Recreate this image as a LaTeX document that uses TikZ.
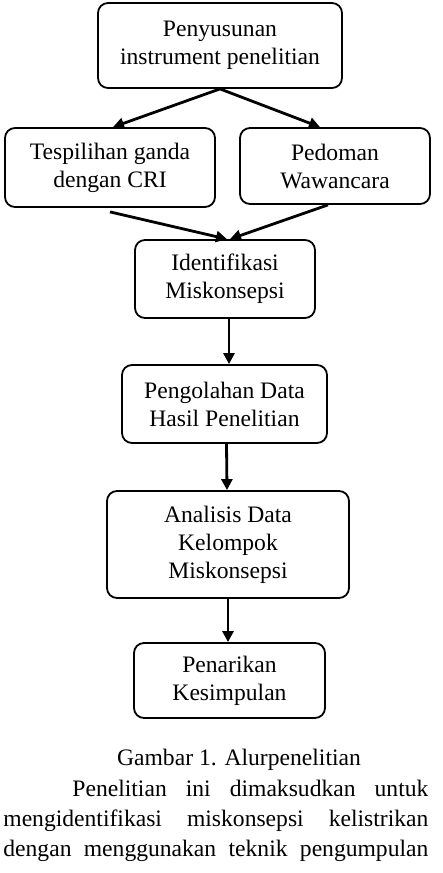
\documentclass[tikz,border=0pt]{standalone}
\usepackage{fontspec}
\setmainfont{Liberation Serif}
\usetikzlibrary{arrows.meta, positioning}

\begin{document}
\begin{tikzpicture}[
            x=0.5pt, y=-0.5pt,
            font=\fontsize{11.8}{14}\selectfont,
            block/.style={rectangle, draw, line width=0.9pt, rounded corners=5pt, align=center, inner sep=2pt},
            line/.style={draw, -{Triangle[length=5.5pt, width=5.5pt]}, line width=1.4pt},
            caption/.style={anchor=base, inner sep=0pt}
        ]
            \useasboundingbox (0,0) rectangle (443,873);
            % Nodes
            \node [block, minimum width=122pt, minimum height=42.5pt] (susun) at (220,45.5) {Penyusunan\\ instrument penelitian};
            \node [block, minimum width=105pt, minimum height=39.5pt] (tes) at (110,167.5) {Tespilihan ganda\\ dengan CRI};
            \node [block, minimum width=95pt, minimum height=38pt] (wawancara) at (335,166) {Pedoman\\ Wawancara};
            \node [block, minimum width=90pt, minimum height=39pt] (identifikasi) at (225,279) {Identifikasi\\ Miskonsepsi};
            \node [block, minimum width=102.5pt, minimum height=39pt] (olah) at (224.5,404) {Pengolahan Data\\ Hasil Penelitian};
            \node [block, minimum width=121pt, minimum height=53.5pt] (analisis) at (228,544.5) {Analisis Data\\ Kelompok\\ Miskonsepsi};
            \node [block, minimum width=95.5pt, minimum height=37.5pt] (simpulan) at (229.5,680.5) {Penarikan\\ Kesimpulan};

            % Caption and text
            \node [caption] (gambar) at (239,765) {Gambar 1. Alurpenelitian};
            \node [caption, anchor=base west] (baris1) at (72,796) {\makebox[178pt][s]{Penelitian ini dimaksudkan untuk}};
            \node [caption, anchor=base west] (baris2) at (3,826) {\makebox[212.5pt][s]{mengidentifikasi miskonsepsi kelistrikan}};
            \node [caption, anchor=base west] (baris3) at (3,856) {\makebox[212.5pt][s]{dengan menggunakan teknik pengumpulan}};

            % Edges
            \path [line] (susun.south) -- ([xshift=1.5pt]tes.north);
            \path [line] (susun.south) -- ([xshift=-7.5pt]wawancara.north);
            \path [line] ([yshift=-2pt]tes.south) -- ([xshift=1pt]identifikasi.north);
            \path [line] ([xshift=-3.5pt]wawancara.south) -- ([xshift=2.5pt]identifikasi.north);
            \path [line] ([xshift=2pt]identifikasi.south) -- ([xshift=2.25pt]olah.north);
            \path [line] ([xshift=1pt]olah.south) -- ([xshift=-0.5pt]analisis.north);
            \path [line] (analisis.south) -- ([xshift=-0.75pt]simpulan.north);
\end{tikzpicture}
\end{document}
